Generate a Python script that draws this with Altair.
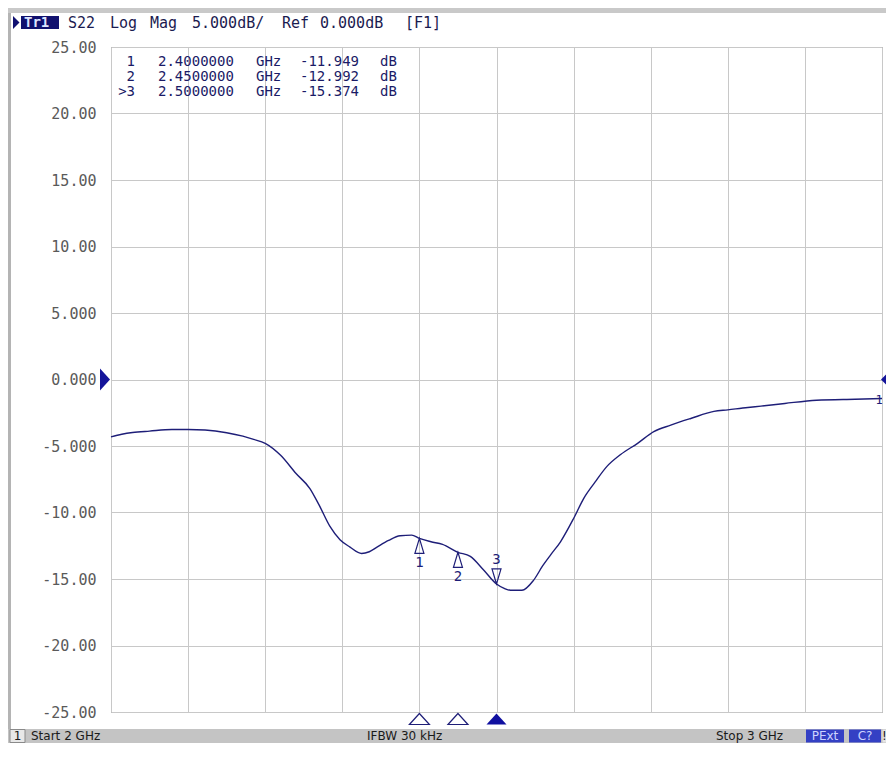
import altair as alt
import pandas as pd

# ---------------- data ----------------
freq_ghz = [2.000, 2.014, 2.028, 2.050, 2.079, 2.100, 2.122, 2.150, 2.171, 2.185,
            2.200, 2.220, 2.240, 2.258, 2.270, 2.284, 2.297, 2.310, 2.325, 2.335,
            2.345, 2.360, 2.375, 2.390, 2.400, 2.415, 2.430, 2.450, 2.466, 2.483,
            2.500, 2.510, 2.518, 2.533, 2.548, 2.560, 2.570, 2.583, 2.600, 2.613,
            2.628, 2.643, 2.661, 2.683, 2.704, 2.726, 2.752, 2.782, 2.800, 2.826,
            2.843, 2.874, 2.915, 2.965, 3.000]
s22_db = [-4.31, -4.12, -3.99, -3.88, -3.76, -3.76, -3.80, -4.00, -4.26, -4.50,
          -4.80, -5.70, -7.07, -8.20, -9.45, -11.05, -12.05, -12.60, -13.08, -12.95,
          -12.60, -12.10, -11.75, -11.70, -11.949, -12.20, -12.40, -12.992, -13.30, -14.30,
          -15.374, -15.70, -15.85, -15.85, -15.10, -14.00, -13.20, -12.20, -10.45, -8.95,
          -7.70, -6.55, -5.64, -4.80, -3.92, -3.43, -2.93, -2.40, -2.28, -2.10,
          -2.00, -1.80, -1.56, -1.48, -1.43]

marker_id = ["1", "2", "3"]
marker_freq = [2.40, 2.45, 2.50]
marker_db = [-11.949, -12.992, -15.374]
active_marker = "3"

y_ticks = [25, 20, 15, 10, 5, 0, -5, -10, -15, -20, -25]
y_tick_labels = ["25.00", "20.00", "15.00", "10.00", "5.000", "0.000",
                 "-5.000", "-10.00", "-15.00", "-20.00", "-25.00"]
x_grid = [2.0, 2.1, 2.2, 2.3, 2.4, 2.5, 2.6, 2.7, 2.8, 2.9, 3.0]

trace_name = "Tr1"
title_words = ["S22", "Log", "Mag", "5.000dB/", "Ref", "0.000dB", "[F1]"]
status_channel = "1"
status_start = "Start 2 GHz"
status_ifbw = "IFBW 30 kHz"
status_stop = "Stop 3 GHz"
status_flags = ["PExt", "C?"]

# ---------------- layout helpers ----------------
W, H = 771, 665
OX, OY = 111, 47          # page position of the plot origin
NAVY = "#1e1e78"
MONO = "DejaVu Sans Mono"
SANS = "DejaVu Sans"


def px(x):
    return x - OX


def py(y):
    return y - OY


one = pd.DataFrame({"k": [0]})


def txt(s, x, y, **kw):
    return alt.Chart(one).mark_text(**kw).encode(
        x=alt.value(px(x)), y=alt.value(py(y)), text=alt.value(s))


def box(x1, x2, y1, y2, **kw):
    return alt.Chart(one).mark_rect(**kw).encode(
        x=alt.value(px(x1)), x2=alt.value(px(x2)),
        y=alt.value(py(y1)), y2=alt.value(py(y2)))


label_expr = " : ".join(
    f"datum.value == {v} ? '{s}'" for v, s in zip(y_ticks, y_tick_labels)) + " : ''"

xs = alt.Scale(domain=[2.0, 3.0], nice=False, zero=False)
ys = alt.Scale(domain=[-25, 25], nice=False, zero=False)

X = alt.X("freq:Q", scale=xs,
          axis=alt.Axis(values=x_grid, grid=True, labels=False, ticks=False,
                        domain=False, title=None, gridColor="#c8c8c8"))
Y = alt.Y("db:Q", scale=ys,
          axis=alt.Axis(values=y_ticks, grid=True, ticks=False, domain=False,
                        title=None, labelExpr=label_expr, labelPadding=15,
                        labelFont=MONO, labelFontSize=15, labelColor="#5a5a5a",
                        gridColor="#c8c8c8"))

trace_df = pd.DataFrame({"freq": freq_ghz, "db": s22_db})
mk_df = pd.DataFrame({"freq": marker_freq, "db": marker_db, "id": marker_id})

trace = alt.Chart(trace_df).mark_line(color=NAVY, strokeWidth=1.4,
                                      interpolate="monotone").encode(x=X, y=Y)

mk_base = alt.Chart(mk_df)
mk_up = mk_base.transform_filter(alt.datum.id != active_marker).mark_point(
    shape="M0,0L-0.6,2L0.6,2Z", size=225, filled=False, color=NAVY,
    strokeWidth=1.2, opacity=1).encode(x="freq:Q", y="db:Q")
mk_dn = mk_base.transform_filter(alt.datum.id == active_marker).mark_point(
    shape="M0,0L-0.6,-2L0.6,-2Z", size=225, filled=False, color=NAVY,
    strokeWidth=1.2, opacity=1).encode(x="freq:Q", y="db:Q")
mk_up_lbl = mk_base.transform_filter(alt.datum.id != active_marker).mark_text(
    dy=25, font=MONO, fontSize=14, color=NAVY).encode(x="freq:Q", y="db:Q", text="id:N")
mk_dn_lbl = mk_base.transform_filter(alt.datum.id == active_marker).mark_text(
    dy=-24, font=MONO, fontSize=14, color=NAVY).encode(x="freq:Q", y="db:Q", text="id:N")

tri_path = "M0,-0.55L1,0.55L-1,0.55Z"
bot_open = mk_base.transform_filter(alt.datum.id != active_marker).mark_point(
    shape=tri_path, size=400, filled=False, color=NAVY, strokeWidth=1.2,
    opacity=1).encode(x="freq:Q", y=alt.value(py(719)))
bot_fill = mk_base.transform_filter(alt.datum.id == active_marker).mark_point(
    shape=tri_path, size=400, filled=True, color="#1010a0",
    opacity=1).encode(x="freq:Q", y=alt.value(py(719)))

ref_df = pd.DataFrame({"db": [0]})
ref_left = alt.Chart(ref_df).mark_point(
    shape="M0,-1.1L1,0L0,1.1Z", size=400, filled=True, color="#14149a",
    opacity=1).encode(x=alt.value(px(100)), y="db:Q")
ref_right = alt.Chart(ref_df).mark_point(
    shape="M0,0L1,-1L1,1Z", size=400, filled=True, color="#14149a",
    opacity=1).encode(x=alt.value(px(881)), y="db:Q")
trace_end = txt(trace_name[-1], 879, 400, align="center", baseline="middle",
                font=MONO, fontSize=12, color=NAVY)

# ---------------- chrome: title bar ----------------
layers = [trace, mk_up, mk_dn, mk_up_lbl, mk_dn_lbl, bot_open, bot_fill,
          ref_left, ref_right, trace_end]

layers.append(box(8, 894, 8, 13, color="#c9c9c9"))
layers.append(box(8, 11, 13, 731, color="#b4b4b4"))
layers.append(alt.Chart(one).mark_point(
    shape="M0,-1L1,0L0,1Z", size=169, filled=True, color="#101070", opacity=1
).encode(x=alt.value(px(13)), y=alt.value(py(22.5))))
layers.append(box(21, 59, 16, 29, color="#10106e"))
layers.append(txt(trace_name, 24, 22.5, align="left", baseline="middle",
                  font=MONO, fontSize=14, fontWeight="bold", color="#dde4ff"))
title_x = [68, 110, 150, 192, 282, 320, 405]
for w, x in zip(title_words, title_x):
    layers.append(txt(w, x, 22.5, align="left", baseline="middle",
                      font=MONO, fontSize=15, color="#1b1b50"))

# ---------------- marker table ----------------
row_y = [62, 77, 92]
for mid, f, d, yy in zip(marker_id, marker_freq, marker_db, row_y):
    num = (">" if mid == active_marker else "") + mid
    style = dict(baseline="middle", font=MONO, fontSize=14, color="#1a1a66")
    layers.append(txt(num, 135, yy, align="right", **style))
    layers.append(txt(f"{f:.7f}", 158, yy, align="left", **style))
    layers.append(txt("GHz", 256, yy, align="left", **style))
    layers.append(txt(f"{d:.3f}", 300, yy, align="left", **style))
    layers.append(txt("dB", 380, yy, align="left", **style))

# ---------------- status bar ----------------
layers.append(box(8, 894, 729, 743, color="#c4c4c4"))
layers.append(box(10, 25, 729.5, 742.5, color="#e8e8e8", stroke="#8a8a8a", strokeWidth=1))
sb = dict(baseline="middle", font=SANS, fontSize=12, color="#1a1a1a")
layers.append(txt(status_channel, 17.5, 736, align="center", **sb))
layers.append(txt(status_start, 31, 736, align="left", **sb))
layers.append(txt(status_ifbw, 367, 736, align="left", **sb))
layers.append(txt(status_stop, 716, 736, align="left", **sb))
flag_x = [(806, 844), (849, 881)]
for s, (a, b) in zip(status_flags, flag_x):
    layers.append(box(a, b, 729.5, 742.5, color="#3440c4"))
    layers.append(txt(s, (a + b) / 2, 736, align="center", baseline="middle",
                      font=SANS, fontSize=12, color="#cdd4ff"))
layers.append(box(882.5, 886, 729.5, 742.5, color="#e4e4e4"))
layers.append(txt("!", 884.3, 736, align="center", **sb))

chart = alt.layer(*layers).properties(
    width=W, height=H,
    padding={"left": 103, "top": 39, "right": 4, "bottom": 31},
    autosize=alt.AutoSizeParams(type="none"),
    background="white",
).configure_view(stroke="#7f7f7f", strokeWidth=1)

chart.save("out.html", embed_options={"renderer": "svg", "actions": False})
